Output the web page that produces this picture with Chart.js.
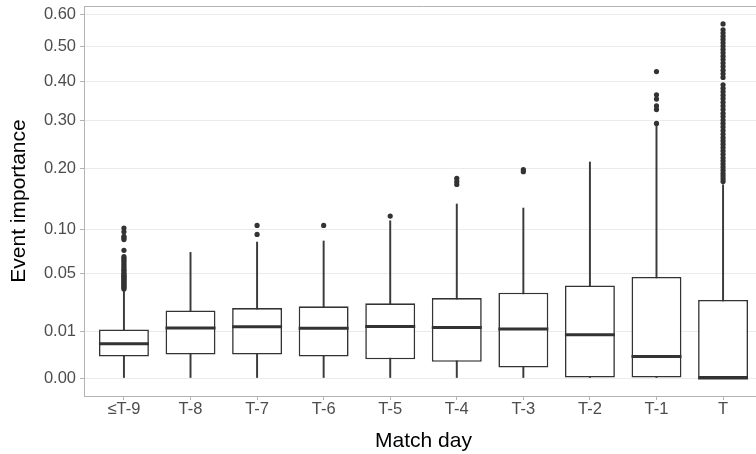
<!DOCTYPE html>
<html>
<head>
<meta charset="utf-8">
<script src="https://cdn.jsdelivr.net/npm/chart.js@4.4.1/dist/chart.umd.min.js"></script>
<style>
  body { margin: 0; background: #fff; overflow: hidden; }
  #wrap { width: 756px; height: 454px; overflow: hidden; }
</style>
</head>
<body>
<div id="wrap"><canvas id="box_chart" width="800" height="454"></canvas></div>
<script>
var box_chart = document.getElementById('box_chart');

// match days
const categories = ['≤T-9', 'T-8', 'T-7', 'T-6', 'T-5', 'T-4', 'T-3', 'T-2', 'T-1', 'T'];

// box stats (event importance)
const lowerWhisker = [0, 0, 0, 0, 0, 0, 0, 0, 0, 0];
const q1 = [0.0021, 0.0025, 0.0025, 0.0021, 0.0016, 0.0012, 0.0005, 0, 0, 0];
const median = [0.0053, 0.0113, 0.0119, 0.0112, 0.0121, 0.0116, 0.0109, 0.0085, 0.0021, 0];
const q3 = [0.0107, 0.0207, 0.0222, 0.0233, 0.0253, 0.029, 0.033, 0.0389, 0.0463, 0.0276];
const upperWhisker = [0.035, 0.0716, 0.0839, 0.0852, 0.1122, 0.1374, 0.1311, 0.2117, 0.289, 0.1695];

// outliers per match day
const outliers = [
  [0.036, 0.037, 0.038, 0.039, 0.040, 0.041, 0.042, 0.043, 0.044, 0.045, 0.046, 0.047, 0.048,
   0.049, 0.050, 0.052, 0.053, 0.055, 0.057, 0.059, 0.061, 0.063, 0.065, 0.067, 0.074,
   0.087, 0.089, 0.091, 0.097, 0.102],
  [],
  [0.0936, 0.1056],
  [0.1056],
  [0.119],
  [0.170, 0.175, 0.181],
  [0.193, 0.197],
  [],
  [0.294, 0.327, 0.336, 0.353, 0.364, 0.426],
  [0.175, 0.180, 0.185, 0.190, 0.196, 0.202, 0.208, 0.214, 0.220, 0.227, 0.234, 0.241, 0.248,
   0.255, 0.262, 0.270, 0.278, 0.286, 0.294, 0.302, 0.310, 0.318, 0.327, 0.336, 0.345, 0.354,
   0.363, 0.372, 0.381, 0.390, 0.410, 0.420, 0.430, 0.440, 0.450, 0.460, 0.470, 0.480, 0.490,
   0.500, 0.510, 0.520, 0.530, 0.540, 0.550, 0.569]
];

const yTicks = [0, 0.01, 0.05, 0.10, 0.20, 0.30, 0.40, 0.50, 0.60];

// square-root axis: plot sqrt(value), label with value
const tr = v => Math.sqrt(v);

Chart.defaults.font.family = '"Liberation Sans", Arial, sans-serif';

const whiskerData = categories.map((c, i) => ({x: i, y: [tr(lowerWhisker[i]), tr(upperWhisker[i])]}));
const boxData = categories.map((c, i) => ({x: i, y: [tr(q1[i]), tr(q3[i])]}));
const medianData = categories.map((c, i) => ({x: i, y: tr(median[i])}));
const outlierData = [];
outliers.forEach((list, i) => list.forEach(v => outlierData.push({x: i, y: tr(v)})));

// top panel border
const topBorder = {
  id: 'topBorder',
  afterDatasetsDraw(chart) {
    const a = chart.chartArea, ctx = chart.ctx;
    ctx.save();
    ctx.strokeStyle = '#b3b3b3';
    ctx.lineWidth = 1;
    ctx.beginPath();
    ctx.moveTo(a.left, a.top + 0.5);
    ctx.lineTo(a.right, a.top + 0.5);
    ctx.stroke();
    ctx.restore();
  }
};

var boxChart = new Chart(box_chart, {
  type: 'bar',
  data: {
    datasets: [
      {
        label: 'whisker',
        data: whiskerData,
        backgroundColor: '#3a3a3a',
        borderWidth: 0,
        barThickness: 1.3,
        grouped: false,
        order: 3
      },
      {
        label: 'box',
        data: boxData,
        backgroundColor: '#ffffff',
        borderColor: '#333333',
        borderWidth: 1.6,
        borderSkipped: false,
        barPercentage: 0.75,
        categoryPercentage: 1,
        grouped: false,
        order: 2
      },
      {
        type: 'line',
        label: 'median',
        data: medianData,
        showLine: false,
        pointStyle: 'line',
        pointRadius: 25,
        pointBorderWidth: 3,
        pointBorderColor: '#333333',
        order: 1
      },
      {
        type: 'line',
        label: 'outliers',
        data: outlierData,
        showLine: false,
        pointRadius: 2.6,
        pointBorderWidth: 0,
        pointBackgroundColor: '#333333',
        order: 0
      }
    ]
  },
  options: {
    responsive: false,
    animation: false,
    events: [],
    layout: { autoPadding: false, padding: { top: 6, left: 0, right: 37, bottom: 0 } },
    plugins: { legend: { display: false }, tooltip: { enabled: false } },
    scales: {
      x: {
        type: 'linear',
        min: -0.6,
        max: 9.6,
        offset: false,
        grid: { drawOnChartArea: false, offset: false, tickLength: 4, tickColor: '#b3b3b3' },
        border: { color: '#b3b3b3' },
        afterBuildTicks: s => { s.ticks = categories.map((c, i) => ({value: i})); },
        afterFit: s => { s.height = 58; s.paddingLeft = 0; s.paddingRight = 0; },
        ticks: {
          padding: 0,
          color: '#4d4d4d',
          font: { size: 16.5 },
          maxRotation: 0,
          callback: v => categories[v]
        },
        title: { display: true, text: 'Match day', color: '#000', font: { size: 21 }, padding: { top: 0, bottom: 0 } }
      },
      y: {
        min: -0.0383,
        max: 0.7924,
        grid: { color: '#ebebeb', tickLength: 4, tickColor: '#b3b3b3' },
        border: { color: '#b3b3b3' },
        afterBuildTicks: s => { s.ticks = yTicks.map(v => ({value: tr(v)})); },
        afterFit: s => { s.width = 84; s.paddingTop = 0; s.paddingBottom = 0; },
        ticks: {
          padding: 4,
          color: '#4d4d4d',
          font: { size: 16.5 },
          callback: v => (v * v).toFixed(2)
        },
        title: { display: true, text: 'Event importance', color: '#000', font: { size: 21 }, padding: { top: 7, bottom: 0 } }
      }
    }
  },
  plugins: [topBorder]
});
</script>
</body>
</html>
